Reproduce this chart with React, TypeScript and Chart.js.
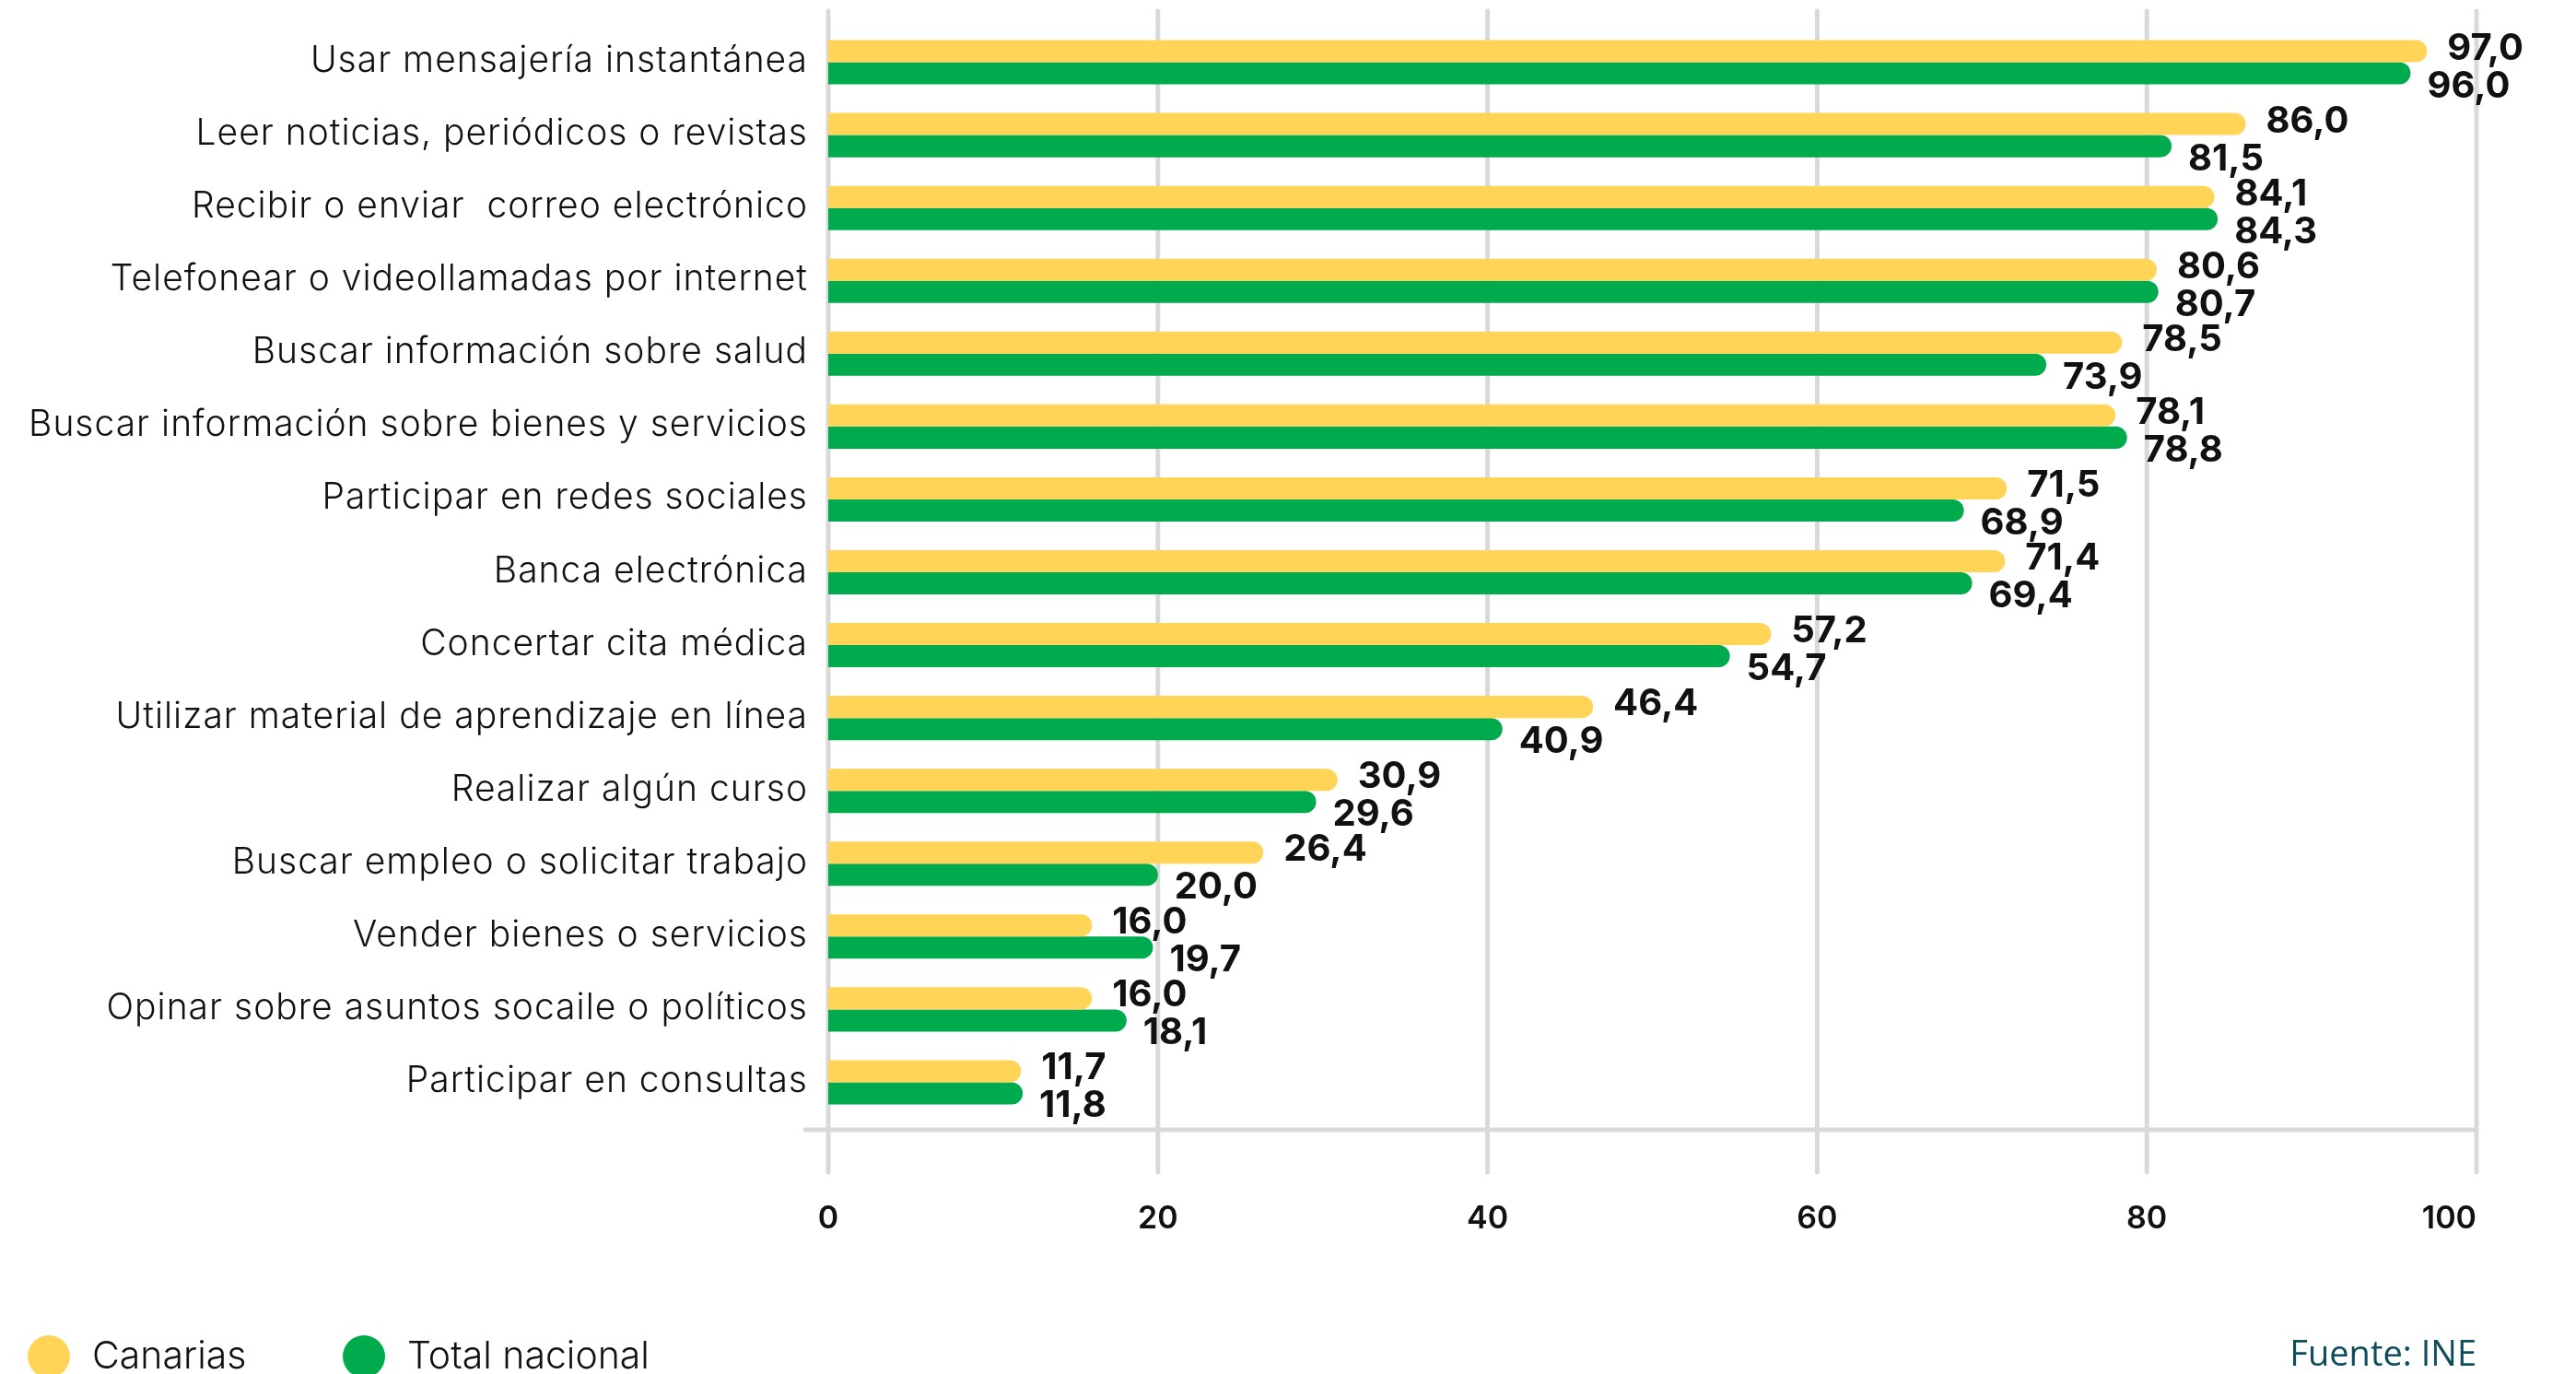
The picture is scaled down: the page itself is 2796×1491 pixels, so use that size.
import React, { useEffect, useRef } from "react";
import { Chart, registerables } from "chart.js";

Chart.register(...registerables);

const categories = [
  "Usar mensajería instantánea",
  "Leer noticias, periódicos o revistas",
  "Recibir o enviar  correo electrónico",
  "Telefonear o videollamadas por internet",
  "Buscar información sobre salud",
  "Buscar información sobre bienes y servicios",
  "Participar en redes sociales",
  "Banca electrónica",
  "Concertar cita médica",
  "Utilizar material de aprendizaje en línea",
  "Realizar algún curso",
  "Buscar empleo o solicitar trabajo",
  "Vender bienes o servicios",
  "Opinar sobre asuntos socaile o políticos",
  "Participar en consultas",
];

const canarias = [97.0, 86.0, 84.1, 80.6, 78.5, 78.1, 71.5, 71.4, 57.2, 46.4, 30.9, 26.4, 16.0, 16.0, 11.7];
const totalNacional = [96.0, 81.5, 84.3, 80.7, 73.9, 78.8, 68.9, 69.4, 54.7, 40.9, 29.6, 20.0, 19.7, 18.1, 11.8];

const xTicks = [0, 20, 40, 60, 80, 100];
const seriesNames = ["Canarias", "Total nacional"];
const sourceText = "Fuente: INE";

const YELLOW = "#FFD457";
const GREEN = "#00AB4E";
const GRID = "#d9d9d9";
const TEXT = "#111111";

const fmt = (v: number) => v.toFixed(1).replace(".", ",");

export default function App() {
  const ref = useRef<HTMLCanvasElement | null>(null);

  useEffect(() => {
    document.body.style.margin = "0";
    document.body.style.overflow = "hidden";
    const canvas = ref.current!;
    const ctx = canvas.getContext("2d")!;

    const customPlugin = {
      id: "custom",
      beforeDatasetsDraw(chart: any) {
        const c = chart.ctx;
        const xs = chart.scales.x;
        const ys = chart.scales.y;
        const area = chart.chartArea;
        c.save();
        // grid lines
        c.strokeStyle = GRID;
        c.lineWidth = 5;
        c.lineCap = "round";
        xTicks.forEach((v) => {
          const px = xs.getPixelForValue(v);
          c.beginPath();
          c.moveTo(px, area.top - 16);
          c.lineTo(px, area.bottom + 58);
          c.stroke();
        });
        c.beginPath();
        c.moveTo(area.left - 25, area.bottom + 12);
        c.lineTo(area.right, area.bottom + 12);
        c.stroke();
        // x tick labels
        c.fillStyle = TEXT;
        c.font = "600 34px Inter";
        c.textBaseline = "alphabetic";
        xTicks.forEach((v, i) => {
          const px = xs.getPixelForValue(v);
          c.textAlign = i === xTicks.length - 1 ? "right" : "center";
          c.fillText(String(v), px, area.bottom + 119);
        });
        // y category labels
        c.font = "300 39px Inter";
        c.textAlign = "right";
        try {
          (c as any).letterSpacing = "1px";
        } catch (e) {}
        categories.forEach((lab, i) => {
          const py = ys.getPixelForValue(i);
          c.fillText(lab, area.left - 22, py + 10.5);
        });
        c.restore();
      },
      afterDatasetsDraw(chart: any) {
        const c = chart.ctx;
        c.save();
        c.fillStyle = TEXT;
        c.font = "700 40px Inter";
        c.textAlign = "left";
        c.textBaseline = "alphabetic";
        chart.data.datasets.forEach((ds: any, di: number) => {
          const meta = chart.getDatasetMeta(di);
          meta.data.forEach((el: any, i: number) => {
            const dx = di === 0 ? 22 : 18;
            const dy = di === 0 ? -5 : 12;
            c.fillText(fmt(ds.data[i]), el.x + dx, el.y + dy + 14);
          });
        });
        c.restore();
      },
      afterDraw(chart: any) {
        const c = chart.ctx;
        const area = chart.chartArea;
        const H = chart.height;
        c.save();
        const items = [
          { x: 53, color: YELLOW, label: seriesNames[0] },
          { x: 395, color: GREEN, label: seriesNames[1] },
        ];
        items.forEach((it) => {
          c.fillStyle = it.color;
          c.beginPath();
          c.arc(it.x, H - 19, 23, 0, Math.PI * 2);
          c.fill();
          c.fillStyle = TEXT;
          c.font = "300 41px Inter";
          c.textAlign = "left";
          c.textBaseline = "alphabetic";
          c.fillText(it.label, it.x + 47, H - 6);
        });
        c.fillStyle = "#0f4c5c";
        c.font = "400 38px 'Open Sans'";
        c.textAlign = "right";
        c.fillText(sourceText, area.right, H - 9);
        c.restore();
      },
    };

    const chart = new Chart(ctx, {
      type: "bar",
      data: {
        labels: categories,
        datasets: [
          {
            label: seriesNames[0],
            data: canarias,
            backgroundColor: YELLOW,
            borderRadius: 12,
            borderSkipped: "start",
            categoryPercentage: 0.608,
            barPercentage: 1,
          },
          {
            label: seriesNames[1],
            data: totalNacional,
            backgroundColor: GREEN,
            borderRadius: 12,
            borderSkipped: "start",
            categoryPercentage: 0.608,
            barPercentage: 1,
          },
        ],
      },
      options: {
        indexAxis: "y",
        animation: false,
        responsive: false,
        maintainAspectRatio: false,
        devicePixelRatio: 1,
        layout: { padding: { top: 28, right: 108, bottom: 277, left: 0 } },
        plugins: {
          legend: { display: false },
          tooltip: { enabled: false },
        },
        scales: {
          x: {
            min: 0,
            max: 100,
            grid: { display: false, drawTicks: false },
            border: { display: false },
            ticks: { display: false, stepSize: 20 },
            afterFit: (s: any) => {
              s.height = 0;
              s.paddingLeft = 0;
              s.paddingRight = 0;
            },
          },
          y: {
            grid: { display: false, drawTicks: false, tickLength: 0 },
            border: { display: false },
            ticks: { display: false },
            afterFit: (s: any) => {
              s.width = 899;
              s.paddingTop = 0;
              s.paddingBottom = 0;
            },
          },
        },
      },
      plugins: [customPlugin],
    } as any);

    return () => chart.destroy();
  }, []);

  return (
    <div style={{ width: 2796, height: 1491, overflow: "hidden", background: "#fff" }}>
      <canvas ref={ref} width={2796} height={1491} style={{ display: "block" }} />
    </div>
  );
}
